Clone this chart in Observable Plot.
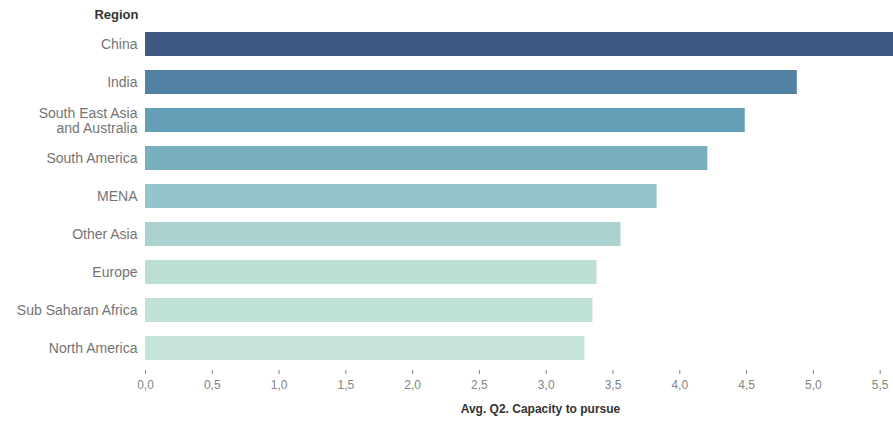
<!DOCTYPE html>
<html>
<head>
<meta charset="utf-8">
<script src="https://cdn.jsdelivr.net/npm/d3@7"></script>
<script src="https://cdn.jsdelivr.net/npm/@observablehq/plot@0.6"></script>
<style>
  html, body { margin: 0; padding: 0; background: #fff; overflow: hidden; }
</style>
</head>
<body>
<div id="chart"></div>
<script>
const regions = ["China", "India", "South East Asia and Australia", "South America", "MENA", "Other Asia", "Europe", "Sub Saharan Africa", "North America"];
const regionLabels = ["China", "India", "South East Asia\nand Australia", "South America", "MENA", "Other Asia", "Europe", "Sub Saharan Africa", "North America"];
const values = [5.75, 4.88, 4.49, 4.21, 3.83, 3.56, 3.38, 3.35, 3.29];
const barColors = ["#3f5a82", "#5283a4", "#649db6", "#78afbf", "#95c5ca", "#aad3d0", "#bcdfd5", "#c0e1d7", "#c4e3d9"];
const xTicks = [0, 0.5, 1, 1.5, 2, 2.5, 3, 3.5, 4, 4.5, 5, 5.5];
const xTickLabels = ["0,0", "0,5", "1,0", "1,5", "2,0", "2,5", "3,0", "3,5", "4,0", "4,5", "5,0", "5,5"];

const data = regions.map((r, i) => ({region: r, value: values[i]}));
const labelOf = new Map(regions.map((r, i) => [r, regionLabels[i]]));
const tickLabelOf = new Map(xTicks.map((t, i) => [t, xTickLabels[i]]));

const chart = Plot.plot({
  width: 893,
  height: 421,
  marginLeft: 145,
  marginRight: 0,
  marginTop: 22,
  marginBottom: 51,
  style: {fontFamily: "'Liberation Sans', Arial, sans-serif", fontSize: "12px", background: "#fff"},
  x: {domain: [0, 5.6], axis: null},
  y: {domain: regions, paddingInner: 0.38, paddingOuter: 0.19, axis: null},
  color: {domain: regions, range: barColors},
  marks: [
    Plot.barX(data, {x: "value", y: "region", fill: "region", clip: true}),
    Plot.axisY({tickSize: 0, tickPadding: 8, label: null, color: "#747474", fontSize: 14, tickFormat: d => labelOf.get(d), lineHeight: 1.05}),
    Plot.axisX({ticks: xTicks, tickFormat: d => tickLabelOf.get(d), tickSize: 4, tickPadding: 6, label: null, color: "#858585", fontSize: 12}),
    Plot.text(["Region"], {frameAnchor: "top-left", lineAnchor: "middle", text: d => d, textAnchor: "end", dx: -7, dy: -8, fontWeight: "bold", fill: "#333", fontSize: 13}),
    Plot.text(["Avg. Q2. Capacity to pursue"], {frameAnchor: "bottom", lineAnchor: "middle", text: d => d, dx: 21, dy: 39, fontWeight: "bold", fill: "#333", fontSize: 12})
  ]
});
document.getElementById("chart").appendChild(chart);
</script>
</body>
</html>
